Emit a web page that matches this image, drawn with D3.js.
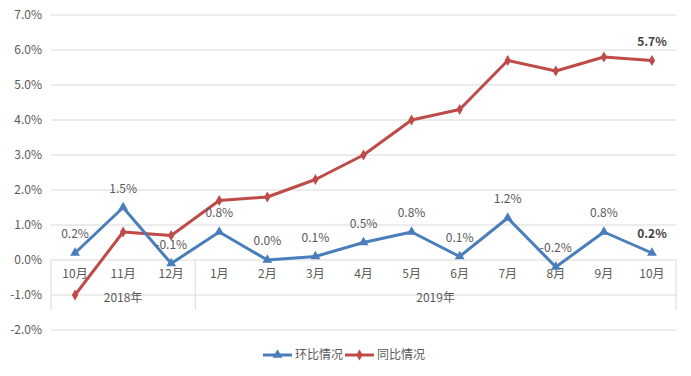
<!DOCTYPE html>
<html>
<head>
<meta charset="utf-8">
<script src="https://cdn.jsdelivr.net/npm/d3@7"></script>
<style>
body { margin: 0; background: #fff; }
text { font-family: "Noto Sans CJK SC", "Microsoft YaHei", sans-serif; fill: #595959; font-size: 12px; }
</style>
</head>
<body>
<svg id="chart" width="691" height="376"></svg>
<script>
// data
const months = ["10月", "11月", "12月", "1月", "2月", "3月", "4月", "5月", "6月", "7月", "8月", "9月", "10月"];
const years = [{ label: "2018年", from: 0, to: 3 }, { label: "2019年", from: 3, to: 13 }];
const huanbi = [0.2, 1.5, -0.1, 0.8, 0.0, 0.1, 0.5, 0.8, 0.1, 1.2, -0.2, 0.8, 0.2];
const tongbi = [-1.0, 0.8, 0.7, 1.7, 1.8, 2.3, 3.0, 4.0, 4.3, 5.7, 5.4, 5.8, 5.7];
const yTicks = [-2, -1, 0, 1, 2, 3, 4, 5, 6, 7];

const blue = "#4a7ebb", red = "#be4b48";
const svg = d3.select("#chart");

// scales
const x = d3.scaleBand().domain(d3.range(months.length)).range([51, 676]);
const y = d3.scaleLinear().domain([-2, 7]).range([330, 15]);
const cx = i => x(i) + x.bandwidth() / 2;

// gridlines + y labels
svg.append("g").selectAll("line").data(yTicks).join("line")
    .attr("x1", 51).attr("x2", 676)
    .attr("y1", d => y(d)).attr("y2", d => y(d))
    .attr("stroke", "#d9d9d9").attr("stroke-width", 1);

svg.append("g").selectAll("text").data(yTicks).join("text")
    .attr("x", 42).attr("y", d => y(d) + 4)
    .attr("text-anchor", "end")
    .text(d => d.toFixed(1) + "%");

// category axis with two levels
const bounds = [0, 3, 13];
svg.append("g").selectAll("line").data(bounds).join("line")
    .attr("x1", d => d < 13 ? x(d) : x.range()[1])
    .attr("x2", d => d < 13 ? x(d) : x.range()[1])
    .attr("y1", y(0)).attr("y2", 310)
    .attr("stroke", "#d9d9d9");

svg.append("g").selectAll("text").data(months).join("text")
    .attr("x", (d, i) => cx(i)).attr("y", 278)
    .attr("text-anchor", "middle").text(d => d);

svg.append("g").selectAll("text").data(years).join("text")
    .attr("x", d => (x(d.from) + (d.to < 13 ? x(d.to) : x.range()[1])) / 2)
    .attr("y", 302)
    .attr("text-anchor", "middle").text(d => d.label);

// lines
const line = d3.line().x((d, i) => cx(i)).y(d => y(d));

svg.append("path").datum(tongbi).attr("d", line)
    .attr("fill", "none").attr("stroke", red).attr("stroke-width", 3).attr("stroke-linejoin", "round");
svg.append("path").datum(huanbi).attr("d", line)
    .attr("fill", "none").attr("stroke", blue).attr("stroke-width", 3).attr("stroke-linejoin", "round");

// markers
const diamond = d3.symbol().type(d3.symbolDiamond).size(36);
const triangle = d3.symbol().type(d3.symbolTriangle).size(42);

svg.append("g").selectAll("path").data(tongbi).join("path")
    .attr("d", diamond).attr("fill", red)
    .attr("transform", (d, i) => `translate(${cx(i)},${y(d)})`);
svg.append("g").selectAll("path").data(huanbi).join("path")
    .attr("d", triangle).attr("fill", blue)
    .attr("transform", (d, i) => `translate(${cx(i)},${y(d)})`);

// data labels
svg.append("g").selectAll("text").data(huanbi).join("text")
    .attr("x", (d, i) => cx(i)).attr("y", d => y(d) - 15)
    .attr("text-anchor", "middle")
    .style("font-weight", (d, i) => i === huanbi.length - 1 ? "bold" : null)
    .style("fill", (d, i) => i === huanbi.length - 1 ? "#404040" : null)
    .text(d => d.toFixed(1) + "%");

const last = tongbi.length - 1;
svg.append("text")
    .attr("x", cx(last)).attr("y", y(tongbi[last]) - 15)
    .attr("text-anchor", "middle")
    .style("font-weight", "bold").style("fill", "#404040")
    .text(tongbi[last].toFixed(1) + "%");

// legend
const legend = svg.append("g");
const items = [{ name: "环比情况", color: blue, sym: triangle, x: 263 }, { name: "同比情况", color: red, sym: diamond, x: 345 }];
items.forEach(it => {
    legend.append("line").attr("x1", it.x).attr("x2", it.x + 29).attr("y1", 355).attr("y2", 355)
        .attr("stroke", it.color).attr("stroke-width", 3);
    legend.append("path").attr("d", it.sym).attr("fill", it.color)
        .attr("transform", `translate(${it.x + 14.5},355)`);
    legend.append("text").attr("x", it.x + 32).attr("y", 359).text(it.name);
});
</script>
</body>
</html>
